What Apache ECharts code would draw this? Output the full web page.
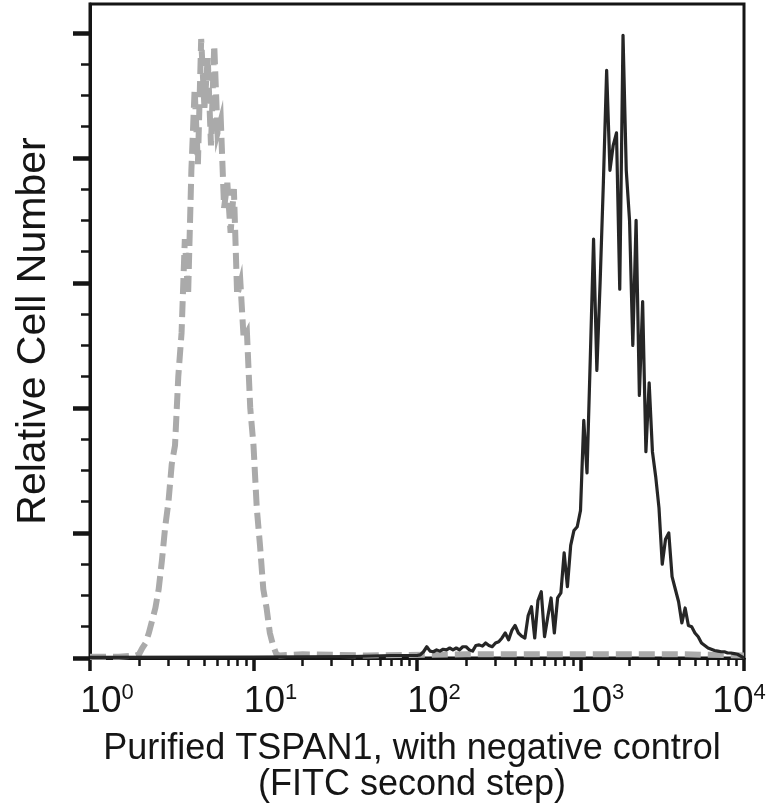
<!DOCTYPE html>
<html><head><meta charset="utf-8">
<script src="https://cdn.jsdelivr.net/npm/echarts@6/dist/echarts.min.js"></script>
<style>html,body{margin:0;padding:0;background:#fff}#c{width:768px;height:811px}</style>
</head><body><div id="c"></div>
<script>
// Axis ticks
const decadeTicks = [1, 10, 100, 1000, 10000];
const minorXTicks = [2,3,4,5,6,7,8,9, 20,30,40,50,60,70,80,90, 200,300,400,500,600,700,800,900, 2000,3000,4000,5000,6000,7000,8000,9000];
const majorYTicks = [0, 1, 2, 3, 4, 5];
const minorYTicks = [0.25,0.5,0.75, 1.25,1.5,1.75, 2.25,2.5,2.75, 3.25,3.5,3.75, 4.25,4.5,4.75];

// Negative control (gray dashed)
const grayX = [1, 1.5,
  1.905, 1.995, 2.089, 2.188, 2.291, 2.399, 2.512, 2.630, 2.754, 2.884,
  3.020, 3.162, 3.311, 3.467, 3.631, 3.802, 3.981, 4.169, 4.365, 4.571,
  4.786, 5.012, 5.248, 5.495, 5.754, 6.026, 6.310, 6.607, 6.918, 7.244,
  7.586, 7.943, 8.318, 8.710, 9.120, 9.550, 10.00, 10.47, 10.96, 11.48,
  12.02, 12.59, 13.18, 13.80, 14.45,
  20, 50, 200, 1000, 4000, 10000];
const grayY = [0.01, 0.01,
  0.02, 0.03, 0.08, 0.12, 0.2, 0.3, 0.4, 0.55, 0.78, 1.05,
  1.25, 1.55, 1.7, 2.25, 2.6, 3.35, 2.9, 3.9, 4.55, 3.95,
  4.95, 4.4, 4.8, 4.1, 4.9, 4.2, 4.3, 3.6, 3.8, 3.4,
  3.75, 2.9, 3.0, 2.55, 2.6, 2.0, 1.7, 1.2, 0.9, 0.55,
  0.4, 0.2, 0.1, 0.03, 0.02,
  0.03, 0.02, 0.03, 0.03, 0.03, 0.02];

// Purified TSPAN1 (black)
const blackX = [1, 10, 40, 70, 90,
  100, 104.7, 109.6, 114.8, 120.2, 125.9, 131.8, 138.0, 144.5, 151.4,
  158.5, 166.0, 173.8, 182.0, 190.5, 199.5, 208.9, 218.8, 229.1, 239.9,
  251.2, 263.0, 275.4, 288.4, 302.0, 316.2, 331.1, 346.7, 363.1, 380.2,
  398.1, 416.9, 436.5, 457.1, 478.6, 501.2, 524.8, 549.5, 575.4, 602.6,
  631.0, 660.7, 691.8, 724.4, 758.6, 794.3, 831.8, 871.0, 912.0, 955.0,
  1000, 1047, 1096, 1148, 1202, 1259, 1318, 1380, 1445, 1514,
  1585, 1660, 1738, 1820, 1905, 1995, 2089, 2188, 2291, 2399,
  2512, 2630, 2754, 2884, 3020, 3162, 3311, 3467, 3631, 3802,
  3981, 4169, 4365, 4571, 4786, 5012, 5248, 5495, 5754, 6026,
  6310, 6607, 6918, 7244, 7586, 7943, 8318, 8710, 9120, 9550,
  10000];
const blackY = [0.005, 0.008, 0.012, 0.02, 0.02,
  0.02, 0.025, 0.05, 0.09, 0.055, 0.05, 0.065, 0.055, 0.07, 0.065,
  0.08, 0.065, 0.08, 0.065, 0.09, 0.09, 0.065, 0.055, 0.1, 0.105,
  0.095, 0.12, 0.1, 0.09, 0.12, 0.13, 0.16, 0.2, 0.145, 0.22,
  0.26, 0.2, 0.175, 0.16, 0.34, 0.41, 0.16, 0.46, 0.53, 0.17,
  0.33, 0.48, 0.2, 0.48, 0.52, 0.84, 0.57, 0.9, 1.02, 1.05,
  1.18, 1.9, 1.48, 2.4, 3.35, 2.3, 3.0, 3.8, 4.7, 3.9,
  4.1, 4.2, 2.95, 4.98, 3.9, 3.5, 2.5, 3.5, 2.1, 2.85,
  1.65, 2.2, 1.65, 1.45, 1.2, 0.75, 0.95, 1.0, 0.65, 0.55,
  0.45, 0.28, 0.4, 0.26, 0.25, 0.2, 0.17, 0.12, 0.1, 0.08,
  0.07, 0.06, 0.055, 0.05, 0.05, 0.04, 0.04, 0.035, 0.03, 0.015,
  0.0];

const xName = 'Purified TSPAN1, with negative control\n(FITC second step)';
const yName = 'Relative Cell Number';

const FONT = '"Liberation Sans", Arial, Helvetica, sans-serif';
const INK = '#151515';
const zip = (xs, ys) => xs.map((x, i) => [x, ys[i]]);

const chart = echarts.init(document.getElementById('c'), null, {renderer: 'canvas'});
chart.setOption({
  animation: false,
  backgroundColor: '#fff',
  grid: {left: 90, right: 24, top: 4, bottom: 153, show: true, borderColor: INK, borderWidth: 3,
         backgroundColor: 'transparent', containLabel: false, outerBoundsMode: 'none'},
  xAxis: [
    {
      type: 'log', logBase: 10, min: 1, max: 10000, position: 'bottom',
      axisLine: {show: true, lineStyle: {color: INK, width: 3}},
      axisTick: {show: true, customValues: decadeTicks, length: 13, lineStyle: {color: INK, width: 3.5}},
      minorTick: {show: false}, splitLine: {show: false},
      axisLabel: {
        show: true, customValues: decadeTicks, margin: 24, padding: [0, 0, 0, 34],
        hideOverlap: false, showMinLabel: true, showMaxLabel: true,
        formatter: v => {
          const e = Math.round(Math.log10(v));
          return '{b|10}{s|' + e + '}' + (v >= 10000 ? '{g| }' : '');
        },
        rich: {
          b: {fontSize: 37, fontFamily: FONT, color: INK, lineHeight: 40},
          s: {fontSize: 22, fontFamily: FONT, color: INK, lineHeight: 22, verticalAlign: 'top'},
          g: {width: 44, fontSize: 10, lineHeight: 10}
        }
      },
      name: xName, nameLocation: 'middle', nameGap: 73,
      nameTextStyle: {fontSize: 36, fontFamily: FONT, color: INK, lineHeight: 36, padding: [0, 10, 0, 0]}
    },
    {
      type: 'log', logBase: 10, min: 1, max: 10000, position: 'bottom',
      axisLine: {show: false},
      axisTick: {show: true, customValues: minorXTicks, length: 8, lineStyle: {color: INK, width: 2.5}},
      axisLabel: {show: false}, splitLine: {show: false}, minorTick: {show: false}
    }
  ],
  yAxis: [
    {
      type: 'value', min: 0, max: 5.23, position: 'left',
      axisLine: {show: true, lineStyle: {color: INK, width: 3}},
      axisTick: {show: true, customValues: majorYTicks, length: 17, lineStyle: {color: INK, width: 4.5}},
      axisLabel: {show: false}, splitLine: {show: false}, minorTick: {show: false},
      name: yName, nameLocation: 'middle', nameGap: 36,
      nameTextStyle: {fontSize: 41, fontFamily: FONT, color: INK}
    },
    {
      type: 'value', min: 0, max: 5.23, position: 'left',
      axisLine: {show: false},
      axisTick: {show: true, customValues: minorYTicks, length: 9, lineStyle: {color: INK, width: 2.5}},
      axisLabel: {show: false}, splitLine: {show: false}, minorTick: {show: false}
    }
  ],
  series: [
    {
      name: 'Negative control', type: 'line', xAxisIndex: 0, yAxisIndex: 0,
      data: zip(grayX, grayY), showSymbol: false, symbol: 'none', smooth: false,
      lineStyle: {color: '#aaaaaa', width: 6, type: [16, 7], cap: 'butt', join: 'miter'},
      z: 2
    },
    {
      name: 'Purified TSPAN1', type: 'line', xAxisIndex: 0, yAxisIndex: 0,
      data: zip(blackX, blackY), showSymbol: false, symbol: 'none', smooth: false,
      lineStyle: {color: '#262626', width: 3.2, join: 'round'},
      z: 3
    }
  ]
});
</script>
</body></html>
